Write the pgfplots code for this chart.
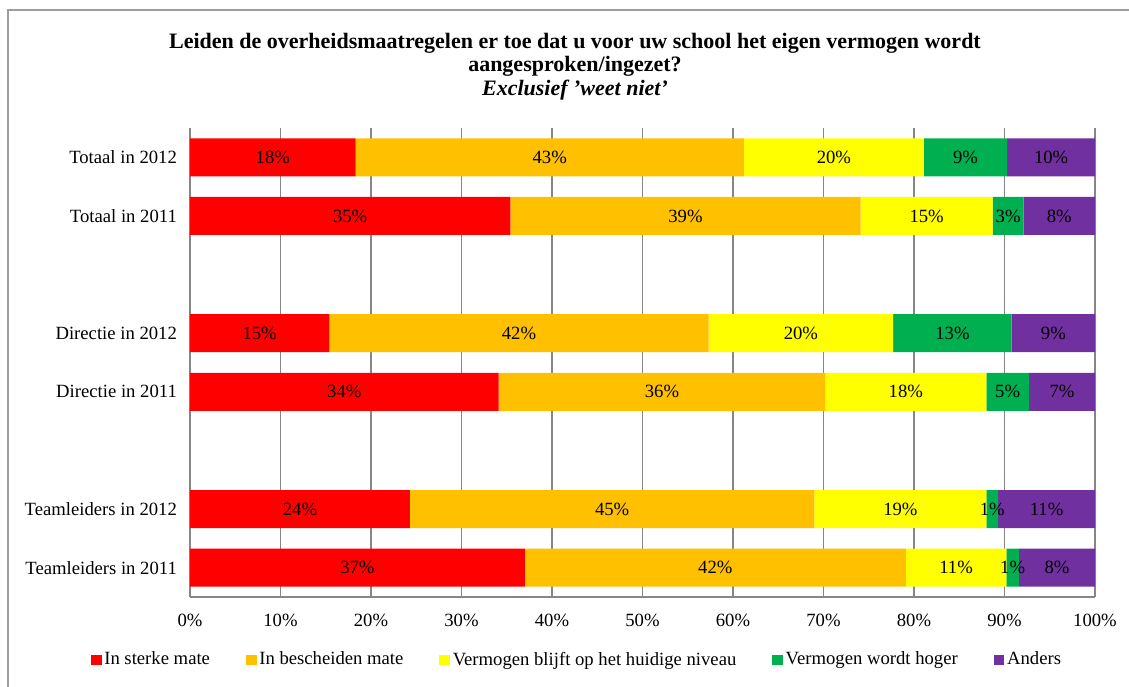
\documentclass[border=0pt]{standalone}
\usepackage{fontspec}
\setmainfont{Liberation Serif}
\usepackage{pgfplots}
\pgfplotsset{compat=1.18}
\usepackage{pgfplotstable}
\definecolor{cRed}{HTML}{FF0000}
\definecolor{cOrange}{HTML}{FFC000}
\definecolor{cYellow}{HTML}{FFFF00}
\definecolor{cGreen}{HTML}{00B050}
\definecolor{cPurple}{HTML}{7030A0}
\definecolor{cGrid}{HTML}{868686}
\pgfplotstableread{
y a b c d e
0 37.0 42.1 11.1 1.4 8.4
1 24.3 44.7 19.0 1.3 10.7
3 34.1 36.1 17.8 4.7 7.3
4 15.4 41.9 20.4 13.1 9.2
6 35.4 38.7 14.6 3.4 7.9
7 18.3 42.9 19.9 9.2 9.7
}\data
\newcommand{\bodyfont}{\fontsize{14}{16.5}\selectfont}
\pgfplotsset{
  /pgf/number format/assume math mode=true,
  lbl/.style={
    visualization depends on=rawx \as \rawval,
    nodes near coords={\pgfmathprintnumber[fixed,precision=0]{\rawval}\%},
    every node near coord/.append style={black, font=\bodyfont}
  }
}
\begin{document}
\begin{tikzpicture}
\bodyfont
\useasboundingbox (-142.5pt,-66.75pt) rectangle (704.25pt,447.75pt);
\clip (-142.5pt,-66.75pt) rectangle (704.25pt,447.75pt);
\draw[cGrid!80, line width=1.2pt] (-136.5pt,-90pt) -- (-136.5pt,440.25pt) -- (720pt,440.25pt);
\begin{axis}[
  at={(0pt,0pt)}, anchor=south west,
  width=678.75pt, height=351.75pt, scale only axis,
  xbar stacked, bar width=28.5pt,
  xmin=0, xmax=100, ymin=-0.5, ymax=7.5,
  xtick={0,10,...,100},
  xticklabel={\pgfmathprintnumber{\tick}\%},
  ytick={0,1,3,4,6,7},
  yticklabels={Teamleiders in 2011,Teamleiders in 2012,Directie in 2011,Directie in 2012,Totaal in 2011,Totaal in 2012},
  tick label style={font=\bodyfont, black},
  xticklabel style={yshift=-8pt},
  yticklabel style={xshift=-5pt},
  major tick length=0pt,
  xmajorgrids,
  major grid style={cGrid, line width=1pt},
  axis x line*=bottom, axis y line*=left,
  axis line style={cGrid, line width=1pt},
  legend columns=5,
  legend cell align=left,
  legend style={draw=none, fill=none, at={(axis description cs:0.428,-0.134)}, anchor=center,
    font=\bodyfont,
    /tikz/every even column/.append style={column sep=25pt}},
  legend image code/.code={\fill[#1] (0pt,-4pt) rectangle (8pt,4pt);},
]
\addplot[fill=cRed, draw=none, lbl] table[x=a,y=y]{\data};
\addplot[fill=cOrange, draw=none, lbl] table[x=b,y=y]{\data};
\addplot[fill=cYellow, draw=none, lbl] table[x=c,y=y]{\data};
\addplot[fill=cGreen, draw=none, lbl] table[x=d,y=y]{\data};
\addplot[fill=cPurple, draw=none, lbl] table[x=e,y=y]{\data};
\legend{In sterke mate, In bescheiden mate, Vermogen blijft op het huidige niveau, Vermogen wordt hoger, Anders}
\end{axis}
\node[font=\fontsize{16.5}{19}\selectfont\bfseries] at (288.75pt,415pt) {Leiden de overheidsmaatregelen er toe dat u voor uw school het eigen vermogen wordt};
\node[font=\fontsize{16.5}{19}\selectfont\bfseries] at (288.75pt,398pt) {aangesproken/ingezet?};
\node[font=\fontsize{16.5}{19}\selectfont\bfseries\itshape] at (288.75pt,380pt) {Exclusief 'weet niet'};
\end{tikzpicture}
\end{document}
